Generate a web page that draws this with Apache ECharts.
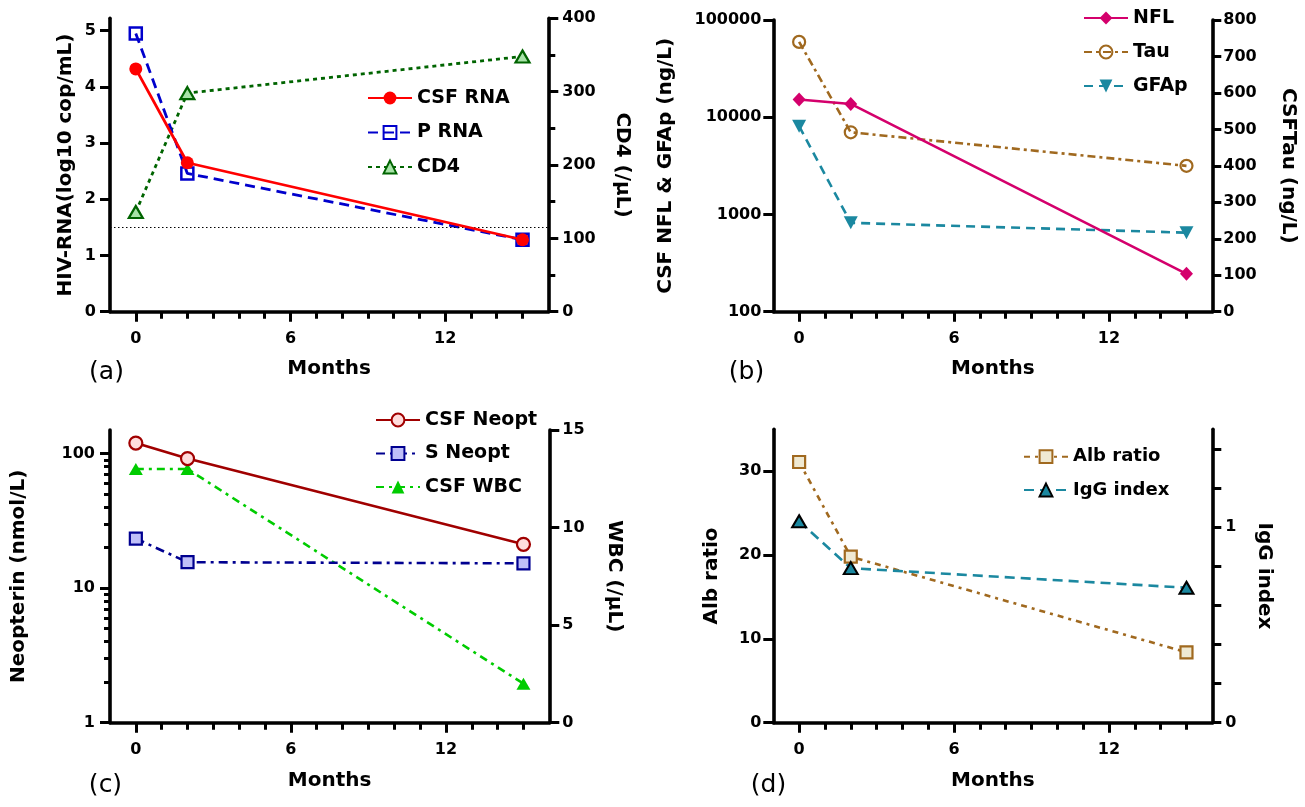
<!DOCTYPE html>
<html>
<head>
<meta charset="utf-8">
<script src="https://cdn.jsdelivr.net/npm/echarts@6/dist/echarts.min.js"></script>
<style>
html,body{margin:0;padding:0;background:#fff;}
#chart{width:1305px;height:807px;}
</style>
</head>
<body>
<div id="chart"></div>
<script>
// ---------- data ----------
const months = [0, 2, 15];
// panel (a)
const csfRna = [4.32, 2.65, 1.28];
const pRna = [4.95, 2.46, 1.28];
const cd4 = [136, 298, 348];
const detectionLimit = 1.5;
// panel (b)
const nfl = [15200, 13700, 245];
const tau = [740, 492, 400];
const gfap = [8100, 820, 650];
// panel (c)
const csfNeopt = [120, 92, 21.2];
const sNeopt = [23.4, 15.6, 15.3];
const csfWbc = [13, 13, 2];
// panel (d)
const albRatio = [31.1, 19.8, 8.4];
const iggIndex = [1.03, 0.79, 0.69];

// ---------- tick values ----------
const xLabelTicks = [0, 6, 12];
const xMinorTicks = [0, 1, 2, 3, 4, 5, 6, 7, 8, 9, 10, 11, 12, 13, 14, 15];
const aLeftTicks = [0, 1, 2, 3, 4, 5];
const bLeftTicks = [100, 1000, 10000, 100000];
const cLeftTicks = [1, 10, 100];
const cLeftMinorTicks = [2, 3, 4, 5, 6, 7, 8, 9, 20, 30, 40, 50, 60, 70, 80, 90];
const dLeftTicks = [0, 10, 20, 30];
const dRightTicks = [0, 0.2, 0.4, 0.6, 0.8, 1.0, 1.2, 1.4];
const dRightLabels = [0, 1];

const FONT = 'DejaVu Sans';
const pairs = arr => months.map((m, i) => [m, arr[i]]);

const axisLineStyle = { show: true, onZero: false, lineStyle: { color: '#000', width: 3.6 } };
const hiddenLine = { show: false, onZero: false };
const tickStyle = { color: '#000', width: 3 };
const lblStyle = { color: '#000', fontFamily: FONT, fontWeight: 'bold', fontSize: 16 };
const nameStyle = { color: '#000', fontFamily: FONT, fontWeight: 'bold', fontSize: 20 };

function xAxes(grid, nameGap) {
  return [
    {
      type: 'value', gridIndex: grid, position: 'bottom', min: -1, max: 16,
      name: 'Months', nameLocation: 'middle', nameGap: nameGap, nameTextStyle: nameStyle, nameMoveOverlap: false,
      axisLine: axisLineStyle,
      axisTick: { show: true, length: 10, lineStyle: tickStyle, customValues: xLabelTicks },
      axisLabel: { show: true, margin: 19, customValues: xLabelTicks, ...lblStyle },
      splitLine: { show: false }
    },
    {
      type: 'value', gridIndex: grid, position: 'bottom', min: -1, max: 16,
      axisLine: hiddenLine,
      axisTick: { show: true, length: 7, lineStyle: tickStyle, customValues: xMinorTicks },
      axisLabel: { show: false },
      splitLine: { show: false }
    }
  ];
}

const grids = [
  { left: 110, top: 18.3, width: 438.3, height: 293.4 },
  { left: 773.3, top: 20, width: 439, height: 291.7 },
  { left: 110, top: 430, width: 439.3, height: 292.7 },
  { left: 773.3, top: 429.3, width: 439, height: 293.4 }
].map(g => Object.assign(g, { containLabel: false, outerBoundsMode: 'none' }));

const xAxis = [].concat(xAxes(0, 47), xAxes(1, 47), xAxes(2, 48), xAxes(3, 48));

const yAxis = [
  // 0: (a) left
  {
    type: 'value', gridIndex: 0, position: 'left', min: 0, max: 5.22,
    name: 'HIV-RNA(log10 cop/mL)', nameLocation: 'middle', nameRotate: 90, nameGap: 34, nameTextStyle: nameStyle, nameMoveOverlap: false,
    axisLine: axisLineStyle,
    axisTick: { show: true, length: 10, lineStyle: tickStyle, customValues: aLeftTicks },
    axisLabel: { show: true, margin: 14, customValues: aLeftTicks, ...lblStyle },
    splitLine: { show: false }
  },
  // 1: (a) right
  {
    type: 'value', gridIndex: 0, position: 'right', min: 0, max: 400, interval: 100,
    name: 'CD4 (/µL)', nameLocation: 'middle', nameRotate: -90, nameGap: 64, nameTextStyle: nameStyle, nameMoveOverlap: false,
    axisLine: axisLineStyle,
    axisTick: { show: true, length: 10, lineStyle: tickStyle },
    minorTick: { show: true, splitNumber: 2, length: 7, lineStyle: tickStyle },
    axisLabel: { show: true, margin: 14, ...lblStyle },
    splitLine: { show: false }, minorSplitLine: { show: false }
  },
  // 2: (b) left log
  {
    type: 'log', gridIndex: 1, position: 'left', min: 100, max: 100000, logBase: 10,
    name: 'CSF NFL & GFAp (ng/L)', nameLocation: 'middle', nameRotate: 90, nameGap: 98, nameTextStyle: nameStyle, nameMoveOverlap: false,
    axisLine: axisLineStyle,
    axisTick: { show: true, length: 10, lineStyle: tickStyle, customValues: bLeftTicks },
    axisLabel: { show: true, margin: 12, customValues: bLeftTicks, formatter: v => String(Math.round(v)), ...lblStyle },
    splitLine: { show: false }
  },
  // 3: (b) right
  {
    type: 'value', gridIndex: 1, position: 'right', min: 0, max: 800, interval: 100,
    name: 'CSFTau (ng/L)', nameLocation: 'middle', nameRotate: -90, nameGap: 66, nameTextStyle: nameStyle, nameMoveOverlap: false,
    axisLine: axisLineStyle,
    axisTick: { show: true, length: 9, lineStyle: tickStyle },
    axisLabel: { show: true, margin: 11, ...lblStyle },
    splitLine: { show: false }
  },
  // 4: (c) left log
  {
    type: 'log', gridIndex: 2, position: 'left', min: 1, max: 150, logBase: 10,
    name: 'Neopterin (nmol/L)', nameLocation: 'middle', nameRotate: 90, nameGap: 81, nameTextStyle: nameStyle, nameMoveOverlap: false,
    axisLine: axisLineStyle,
    axisTick: { show: true, length: 10, lineStyle: tickStyle, customValues: cLeftTicks },
    axisLabel: { show: true, margin: 15, customValues: cLeftTicks, formatter: v => String(Math.round(v)), ...lblStyle },
    splitLine: { show: false }
  },
  // 5: (c) right
  {
    type: 'value', gridIndex: 2, position: 'right', min: 0, max: 15, interval: 5,
    name: 'WBC (/µL)', nameLocation: 'middle', nameRotate: -90, nameGap: 55, nameTextStyle: nameStyle, nameMoveOverlap: false,
    axisLine: axisLineStyle,
    axisTick: { show: true, length: 10, lineStyle: tickStyle },
    axisLabel: { show: true, margin: 13, ...lblStyle },
    splitLine: { show: false }
  },
  // 6: (c) left minor ticks
  {
    type: 'log', gridIndex: 2, position: 'left', min: 1, max: 150, logBase: 10,
    axisLine: hiddenLine,
    axisTick: { show: true, length: 6, lineStyle: tickStyle, customValues: cLeftMinorTicks },
    axisLabel: { show: false },
    splitLine: { show: false }
  },
  // 7: (d) left
  {
    type: 'value', gridIndex: 3, position: 'left', min: 0, max: 35,
    name: 'Alb ratio', nameLocation: 'middle', nameRotate: 90, nameGap: 52, nameTextStyle: nameStyle, nameMoveOverlap: false,
    axisLine: axisLineStyle,
    axisTick: { show: true, length: 10, lineStyle: tickStyle, customValues: dLeftTicks },
    axisLabel: { show: true, margin: 12, customValues: dLeftTicks, ...lblStyle },
    splitLine: { show: false }
  },
  // 8: (d) right
  {
    type: 'value', gridIndex: 3, position: 'right', min: 0, max: 1.5,
    name: 'IgG index', nameLocation: 'middle', nameRotate: -90, nameGap: 42, nameTextStyle: nameStyle, nameMoveOverlap: false,
    axisLine: axisLineStyle,
    axisTick: { show: true, length: 9, lineStyle: tickStyle, customValues: dRightTicks },
    axisLabel: { show: true, margin: 13, customValues: dRightLabels, ...lblStyle },
    splitLine: { show: false }
  }
];

function line(name, data, xi, yi, color, dash, width, symbol, size, itemStyle, z, extra) {
  return Object.assign({
    type: 'line', name: name, data: pairs(data), xAxisIndex: xi, yAxisIndex: yi,
    symbol: symbol, symbolSize: size, showAllSymbol: true, z: z,
    lineStyle: { color: color, width: width, type: dash },
    itemStyle: itemStyle,
    emphasis: { disabled: true },
    animation: false
  }, extra || {});
}

const series = [
  // (a)
  line('CSF RNA', csfRna, 0, 0, '#ff0000', 'solid', 2.8, 'circle', 13,
    { color: '#ff0000', borderWidth: 0 }, 5, {
      markLine: {
        silent: true, symbol: ['none', 'none'], label: { show: false }, animation: false,
        lineStyle: { type: [1.5, 2.5], color: '#000', width: 1 },
        data: [{ yAxis: detectionLimit }]
      }
    }),
  line('P RNA', pRna, 0, 0, '#0000cc', [10, 6], 2.8, 'rect', 12,
    { color: 'rgba(255,255,255,0)', borderColor: '#0000cc', borderWidth: 2.5 }, 4),
  line('CD4', cd4, 0, 1, '#006400', [4, 4], 2.8, 'triangle', [14, 12],
    { color: '#a8e4a8', borderColor: '#006400', borderWidth: 2.2 }, 3),
  // (b)
  line('NFL', nfl, 2, 2, '#d4006c', 'solid', 2.6, 'diamond', [13, 14],
    { color: '#d4006c', borderWidth: 0 }, 5),
  line('Tau', tau, 2, 3, '#a0691f', [8, 4, 3, 4], 2.6, 'circle', 12,
    { color: 'rgba(255,255,255,0)', borderColor: '#a0691f', borderWidth: 2.2 }, 4),
  line('GFAp', gfap, 2, 2, '#1b88a0', [9, 6], 2.6, 'triangle', [14, 13],
    { color: '#1b88a0', borderWidth: 0 }, 3, { symbolRotate: 180 }),
  // (c)
  line('CSF Neopt', csfNeopt, 4, 4, '#a00000', 'solid', 2.6, 'circle', 13,
    { color: '#ffdcdc', borderColor: '#a00000', borderWidth: 2.2 }, 5),
  line('S Neopt', sNeopt, 4, 4, '#000090', [9, 5, 3, 5], 2.6, 'rect', 12,
    { color: '#c0c0f8', borderColor: '#000090', borderWidth: 2.2 }, 4),
  line('CSF WBC', csfWbc, 4, 5, '#00cc00', [8, 5, 3, 5], 2.6, 'triangle', [14, 12],
    { color: '#00cc00', borderWidth: 0 }, 3),
  // (d)
  line('Alb ratio', albRatio, 6, 7, '#a0691f', [6, 5, 3, 5], 2.6, 'rect', 12,
    { color: '#efe9d2', borderColor: '#a0691f', borderWidth: 2.2 }, 3),
  line('IgG index', iggIndex, 6, 8, '#1b88a0', [10, 6], 2.6, 'triangle', [14, 12],
    { color: '#1b88a0', borderColor: '#000', borderWidth: 2 }, 5)
];

function legend(names, left, top, gap, fs) {
  return {
    data: names, orient: 'vertical', left: left, top: top, padding: 0,
    itemWidth: 44, itemHeight: 16, itemGap: gap, selectedMode: false,
    textStyle: { color: '#000', fontFamily: FONT, fontWeight: 'bold', fontSize: fs }
  };
}

const panelText = (txt, x, y) => ({
  type: 'text', x: x, y: y, silent: true,
  style: { text: txt, fill: '#000', font: '25px "DejaVu Sans"', align: 'center', verticalAlign: 'middle' }
});

const option = {
  animation: false,
  backgroundColor: '#fff',
  textStyle: { fontFamily: FONT },
  grid: grids,
  xAxis: xAxis,
  yAxis: yAxis,
  legend: [
    legend(['CSF RNA', 'P RNA', 'CD4'], 367, 88.5, 15.5, 19),
    legend(['NFL', 'Tau', 'GFAp'], 1083, 8.5, 15, 19),
    legend(['CSF Neopt', 'S Neopt', 'CSF WBC'], 375, 410.5, 14.5, 19),
    legend(['Alb ratio', 'IgG index'], 1023, 447.7, 15.3, 18)
  ],
  graphic: [
    panelText('(a)', 106.5, 372),
    panelText('(b)', 746.5, 372),
    panelText('(c)', 105.5, 785),
    panelText('(d)', 768.5, 785)
  ],
  series: series
};

const chart = echarts.init(document.getElementById('chart'), null, { renderer: 'canvas' });
chart.setOption(option);
</script>
</body>
</html>
